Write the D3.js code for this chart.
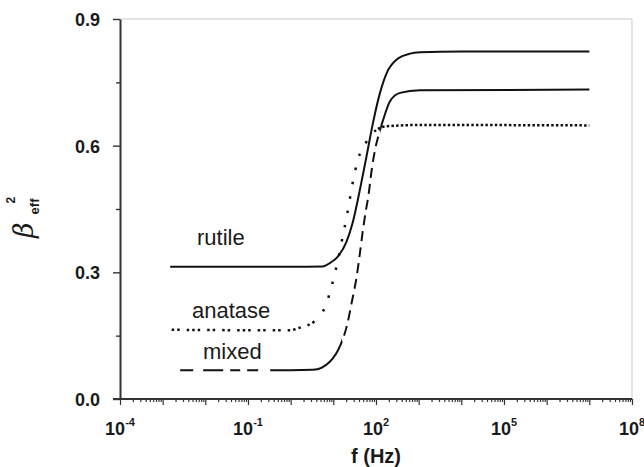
<!DOCTYPE html>
<html>
<head>
<meta charset="utf-8">
<script src="https://cdn.jsdelivr.net/npm/d3@7"></script>
<style>
  html, body { margin: 0; padding: 0; background: #fff; }
  svg { display: block; font-family: "Liberation Sans", Arial, sans-serif; }
</style>
</head>
<body>
<svg id="chart" width="644" height="467"></svg>
<script>
// Frequency (Hz) and effective coupling beta_eff^2 for the three TiO2 phases
const rutileFreq  = [0.0015, 0.1, 1, 5.7, 8.3, 12.9, 20.4, 28.8, 42, 60, 85, 124, 178, 306, 627, 1070, 10000, 1e7];
const rutileBeta  = [0.313, 0.313, 0.313, 0.314, 0.322, 0.338, 0.373, 0.42, 0.496, 0.575, 0.654, 0.725, 0.772, 0.804, 0.818, 0.821, 0.823, 0.823];

const anataseFreq = [0.0015, 0.1, 0.96, 1.66, 3.33, 4.9, 7.0, 9.1, 11.0, 12.9, 14.5, 17.0, 20.4, 24.0, 27.0, 32.4, 42.7, 60.5, 104, 178, 1070, 1e7];
const anataseBeta = [0.164, 0.163, 0.163, 0.169, 0.181, 0.196, 0.228, 0.267, 0.30, 0.33, 0.355, 0.39, 0.43, 0.47, 0.50, 0.54, 0.583, 0.610, 0.638, 0.646, 0.649, 0.648];

const mixedFreq   = [0.0015, 0.1, 1, 3.33, 8.4, 14.3, 20.6, 26.9, 35.2, 42.2, 49.5, 58.3, 66.1, 79.3, 94.8, 113, 148, 213, 366, 1070, 1e7];
const mixedBeta   = [0.068, 0.068, 0.068, 0.069, 0.089, 0.125, 0.172, 0.228, 0.290, 0.347, 0.401, 0.448, 0.480, 0.543, 0.590, 0.622, 0.662, 0.705, 0.725, 0.731, 0.733];

const yMajorTicks = [0, 0.3, 0.6, 0.9];
const yMinorTicks = [0.15, 0.45, 0.75];
const xLabelExponents = [-4, -1, 2, 5, 8];

const svg = d3.select("#chart");
const plotLeft = 120, plotRight = 632, plotTop = 19, plotBottom = 399;

const x = d3.scaleLog().domain([1e-4, 1e8]).range([plotLeft, plotRight]);
const y = d3.scaleLinear().domain([0, 0.9]).range([plotBottom, plotTop]);

const ink = "#111";
const axisInk = "#333";

// light frame on top and right
svg.append("path")
  .attr("d", `M${plotLeft},${plotTop}H${plotRight}V${plotBottom}`)
  .attr("fill", "none").attr("stroke", "#c9c9c9").attr("stroke-width", 1);

// x axis: decade ticks and minor ticks
const decades = d3.range(-4, 9).map(e => Math.pow(10, e));
const minors = [];
for (let e = -4; e < 8; e++) for (let m = 2; m <= 9; m++) minors.push(m * Math.pow(10, e));

const gx = svg.append("g").attr("transform", `translate(0,${plotBottom})`);
gx.append("g").call(d3.axisBottom(x).tickValues(minors).tickSize(3).tickSizeOuter(0).tickFormat(""))
  .call(g => g.select(".domain").remove());
const gxMajor = gx.append("g").call(d3.axisBottom(x).tickValues(decades).tickSize(6).tickSizeOuter(0).tickFormat(""));
gx.selectAll("line").attr("stroke", axisInk).attr("stroke-width", 1.2);
gxMajor.select(".domain").attr("stroke", axisInk).attr("stroke-width", 2)
  .attr("d", `M${plotLeft - 7},0H${plotRight}`);

// x tick labels 10^n
xLabelExponents.forEach(e => {
  const t = svg.append("text")
    .attr("x", x(Math.pow(10, e)))
    .attr("y", plotBottom + 36)
    .attr("text-anchor", "middle")
    .attr("font-size", 18).attr("font-weight", "bold").attr("fill", "#1a1a1a");
  t.append("tspan").text("10");
  t.append("tspan").attr("font-size", 11).attr("dy", -9).text(String(e));
});

// y axis
const gy = svg.append("g").attr("transform", `translate(${plotLeft},0)`);
gy.append("g").call(d3.axisLeft(y).tickValues(yMinorTicks).tickSize(4).tickSizeOuter(0).tickFormat(""))
  .call(g => g.select(".domain").remove());
gy.append("g").call(d3.axisLeft(y).tickValues(yMajorTicks).tickSize(7).tickSizeOuter(0).tickFormat(d3.format(".1f")));
gy.selectAll("line").attr("stroke", axisInk).attr("stroke-width", 1.4);
gy.selectAll(".domain").attr("stroke", axisInk).attr("stroke-width", 2);
gy.selectAll("text")
  .attr("x", -20).attr("dy", "0.36em")
  .attr("font-size", 18).attr("font-weight", "bold").attr("fill", "#1a1a1a")
  .attr("font-family", "Liberation Sans, Arial, sans-serif");

// axis titles
svg.append("text")
  .attr("x", (plotLeft + plotRight) / 2).attr("y", 463)
  .attr("text-anchor", "middle")
  .attr("font-size", 20).attr("font-weight", "bold").attr("fill", "#1a1a1a")
  .text("f (Hz)");

const yt = svg.append("text")
  .attr("transform", "translate(33,238) rotate(-90)")
  .attr("fill", "#1a1a1a");
yt.append("tspan").attr("font-family", "DejaVu Serif, serif").attr("font-style", "italic")
  .attr("font-size", 27).text("β");
yt.append("tspan").attr("font-size", 13).attr("font-weight", "bold").attr("dx", 8).attr("dy", 6).text("eff");
yt.append("tspan").attr("font-size", 12).attr("font-weight", "bold").attr("dx", -5).attr("dy", -24).text("2");

// curves
const line = d3.line()
  .x(d => x(d[0]))
  .y(d => y(d[1]))
  .curve(d3.curveMonotoneX);

const defs = svg.append("defs");
let clipId = 0;
function band(f0, f1) {
  const id = "band" + (clipId++);
  const x0 = f0 == null ? 0 : x(f0);
  const x1 = f1 == null ? 644 : x(f1);
  defs.append("clipPath").attr("id", id)
    .append("rect").attr("x", x0).attr("y", 0).attr("width", x1 - x0).attr("height", 467);
  return `url(#${id})`;
}

function drawSeries(freq, vals, pieces, width) {
  const pts = freq.map((f, i) => [f, vals[i]]);
  const d = line(pts);
  pieces.forEach(p => {
    svg.append("path")
      .attr("d", d)
      .attr("fill", "none")
      .attr("stroke", ink)
      .attr("stroke-width", width)
      .attr("stroke-dasharray", p.dash)
      .attr("stroke-dashoffset", p.offset || 0)
      .attr("clip-path", band(p.from, p.to));
  });
}

drawSeries(rutileFreq, rutileBeta, [{ from: null, to: null, dash: null }], 2);

drawSeries(anataseFreq, anataseBeta, [
  { from: null, to: 4, dash: "2.5,7,2.5,3,2.5,3,2.5,7,2.5,3,2.5,7,2.5,3", offset: -7 },
  { from: 4, to: 89, dash: "2.5,12" },
  { from: 89, to: null, dash: "2.5,2.2" }
], 2.5);

drawSeries(mixedFreq, mixedBeta, [
  { from: null, to: 16, dash: "0,10,13,10,20,7,10,7,11,12,3000,0" },
  { from: 16, to: 125, dash: "10,6" },
  { from: 125, to: null, dash: null }
], 2);

// series labels
const labelFont = 22;
[["rutile", 197, 245], ["anatase", 192, 318], ["mixed", 203, 359]].forEach(([t, lx, ly]) => {
  svg.append("text").attr("x", lx).attr("y", ly)
    .attr("font-size", labelFont).attr("fill", "#1a1a1a").text(t);
});
</script>
</body>
</html>
